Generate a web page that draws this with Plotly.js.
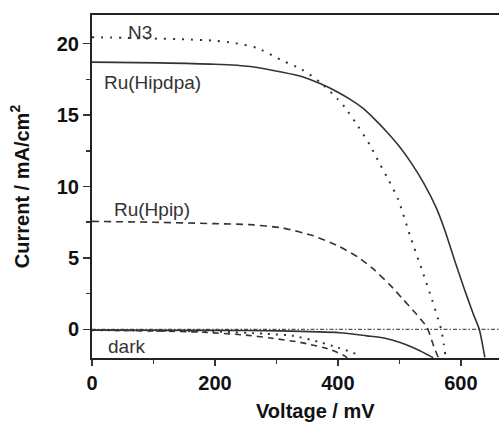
<!DOCTYPE html>
<html>
<head>
<meta charset="utf-8">
<script src="https://cdn.plot.ly/plotly-3.0.1.min.js"></script>
<style>html,body{margin:0;padding:0;background:#fff;}#chart{width:499px;height:422px;}</style>
</head>
<body>
<div id="chart"></div>
<script>
// Voltage (mV) / current (mA/cm2)
var n3V = [0, 50, 100, 150, 200, 230, 268, 310, 341, 371, 400, 412, 433, 452, 468, 483, 498, 517, 538, 553, 563, 568, 572, 575];
var n3I = [20.45, 20.4, 20.35, 20.3, 20.2, 20.05, 19.7, 18.8, 18.2, 17.3, 16.1, 15.5, 14.2, 12.9, 11.6, 10.4, 9.1, 6.6, 4.0, 2.1, 0.7, 0.0, -1.0, -1.9];

var hipdpaV = [0, 110, 200, 257, 310, 341, 371, 400, 420, 440, 460, 480, 500, 520, 540, 560, 575, 590, 605, 620, 630, 639];
var hipdpaI = [18.7, 18.65, 18.55, 18.4, 18.0, 17.7, 17.2, 16.6, 16.1, 15.5, 14.7, 13.8, 12.8, 11.6, 10.2, 8.5, 6.8, 4.8, 2.9, 1.1, 0.0, -1.95];

var hpipV = [0, 100, 200, 257, 310, 360, 400, 433, 457, 485, 506, 525, 545, 556, 563];
var hpipI = [7.56, 7.5, 7.4, 7.33, 7.1, 6.55, 5.85, 5.05, 4.25, 3.1, 2.1, 1.2, 0.14, -1.2, -1.95];

var darkSolidV = [0, 200, 306, 403, 447, 475, 500, 522, 545, 555];
var darkSolidI = [-0.05, -0.07, -0.1, -0.23, -0.45, -0.6, -0.9, -1.27, -1.75, -1.98];

var darkDashV = [0, 100, 180, 250, 290, 338, 387, 411, 415];
var darkDashI = [-0.05, -0.1, -0.2, -0.4, -0.6, -0.9, -1.4, -1.85, -2.0];

var darkDotV = [0, 200, 280, 327, 371, 400, 431, 436];
var darkDotI = [-0.05, -0.15, -0.3, -0.45, -0.9, -1.27, -1.75, -1.95];

var zeroV = [0, 700];
var zeroI = [0, 0];

var xTicks = [0, 200, 400, 600];
var yTicks = [0, 5, 10, 15, 20];

var labels = ["N3", "Ru(Hipdpa)", "Ru(Hpip)", "dark"];
var labelV = [78, 98, 97, 56];
var labelI = [20.75, 17.3, 8.37, -1.17];

var lineCol = "#333";
function tr(x, y, dash, w, col) {
  return {x: x, y: y, type: "scatter", mode: "lines", showlegend: false, hoverinfo: "skip",
          line: {color: col || lineCol, width: w, dash: dash, shape: "spline", smoothing: 0.6}};
}
var data = [
  tr(zeroV, zeroI, "4px,2px,1.5px,2px", 1.2, "#555"),
  tr(n3V, n3I, "2px,7px", 2),
  tr(hipdpaV, hipdpaI, "solid", 1.6),
  tr(hpipV, hpipI, "7px,5px", 1.6),
  tr(darkSolidV, darkSolidI, "solid", 1.6),
  tr(darkDashV, darkDashI, "6px,5px", 1.6),
  tr(darkDotV, darkDotI, "2px,6px", 2)
];

var annots = labels.map(function (t, i) {
  return {x: labelV[i], y: labelI[i], xref: "x", yref: "y", text: t, showarrow: false,
          font: {family: "Liberation Sans, Arial, sans-serif", size: 19, color: "#333"},
          xanchor: "center", yanchor: "middle"};
});
annots.push({x: 0.548, y: -0.155, xref: "paper", yref: "paper", text: "Voltage / mV", showarrow: false,
             font: {family: "Liberation Sans, Arial, sans-serif", size: 20, color: "#111", weight: "bold"},
             xanchor: "center", yanchor: "middle"});

var tickFont = {family: "Liberation Sans, Arial, sans-serif", size: 20, color: "#111", weight: "bold"};
var layout = {
  width: 499, height: 422,
  margin: {l: 92, r: 0, t: 15, b: 64},
  paper_bgcolor: "#fff", plot_bgcolor: "#fff",
  xaxis: {range: [0, 662], tickvals: xTicks, ticktext: xTicks.map(String), ticks: "outside", ticklen: 6, tickwidth: 1.5,
          tickcolor: "#333", showline: true, linecolor: "#222", linewidth: 2, mirror: true, showgrid: false, zeroline: false,
          tickfont: tickFont,
          minor: {dtick: 100, tick0: 0, ticks: "outside", ticklen: 4, tickwidth: 1.5, tickcolor: "#333", showgrid: false}},
  yaxis: {range: [-2, 22], tickvals: yTicks, ticktext: yTicks.map(String), ticks: "outside", ticklen: 7, tickwidth: 1.5,
          tickcolor: "#333", showline: true, linecolor: "#222", linewidth: 2, showgrid: false, zeroline: false,
          tickfont: tickFont,
          title: {text: "Current / mA/cm<sup>2</sup>", standoff: 22,
                  font: {family: "Liberation Sans, Arial, sans-serif", size: 20, color: "#111", weight: "bold"}},
          minor: {dtick: 2.5, tick0: 0, ticks: "outside", ticklen: 4, tickwidth: 1.5, tickcolor: "#333", showgrid: false}},
  annotations: annots
};
Plotly.newPlot("chart", data, layout, {staticPlot: true, displayModeBar: false});
</script>
</body>
</html>
